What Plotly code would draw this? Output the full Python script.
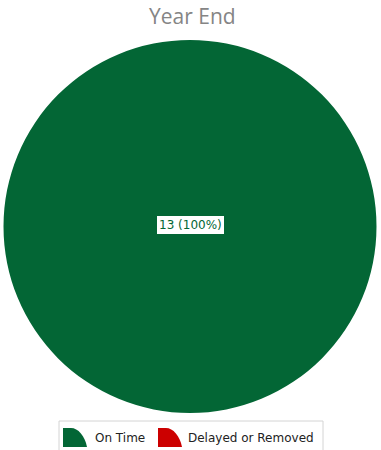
import plotly.graph_objects as go

labels = ["On Time", "Delayed or Removed"]
values = [13, 0]
colors = ["#036635", "#CC0000"]
title_text = "Year End"

W, H = 381, 450

fig = go.Figure()
fig.add_trace(go.Pie(
    labels=labels, values=values, sort=False, direction="clockwise",
    marker=dict(colors=colors, line=dict(width=0)),
    textinfo="none", hoverinfo="label+value+percent", showlegend=False,
    domain=dict(x=[3 / W, 377 / W], y=[1 - 413 / H, 1 - 40 / H]),
))
# invisible pixel-space axes for layout decorations
fig.add_trace(go.Scatter(x=[None], y=[None], mode="markers", showlegend=False, hoverinfo="skip"))

total = sum(values)
shapes = []
annotations = []
FONT = "DejaVu Sans, Open Sans, sans-serif"

for lab, v, c in zip(labels, values, colors):
    if v > 0 and v == total:
        annotations.append(dict(
            x=190.5, y=225, xref="x", yref="y",
            text=f"{v} ({v / total * 100:.0f}%)", showarrow=False,
            xanchor="center", yanchor="middle",
            font=dict(family=FONT, size=12, color=c),
            bgcolor="white", borderpad=2, borderwidth=0,
        ))

annotations.append(dict(
    x=192, y=16, xref="x", yref="y", text=title_text, showarrow=False,
    xanchor="center", yanchor="middle",
    font=dict(family="Open Sans, DejaVu Sans, sans-serif", size=21, color="#858585"),
))

shapes.append(dict(type="rect", xref="x", yref="y", x0=59, x1=323, y0=421, y1=455,
                   line=dict(color="#d4d4d4", width=1), fillcolor="white", layer="below"))

legend_pos = [(63, 93), (158, 186)]
for (ix, tx), lab, c in zip(legend_pos, labels, colors):
    x0, x1 = ix, ix + 24
    y0, y1 = 428, 447
    path = (f"M {x0},{y1} L {x0},{y0} L {x0 + 8},{y0} "
            f"C {x0 + 15},{y0} {x1 - 2},{y0 + 8} {x1},{y1} Z")
    shapes.append(dict(type="path", xref="x", yref="y", path=path,
                       fillcolor=c, line=dict(width=0)))
    annotations.append(dict(
        x=tx, y=438, xref="x", yref="y", text=lab, showarrow=False,
        xanchor="left", yanchor="middle",
        font=dict(family=FONT, size=12, color="#222222"),
    ))

fig.update_layout(
    width=W, height=H, margin=dict(l=0, r=0, t=0, b=0),
    paper_bgcolor="white", plot_bgcolor="rgba(0,0,0,0)",
    xaxis=dict(range=[0, W], visible=False, fixedrange=True, domain=[0, 1]),
    yaxis=dict(range=[H, 0], visible=False, fixedrange=True, domain=[0, 1]),
    shapes=shapes, annotations=annotations, showlegend=False,
)

fig.write_html("out.html")
